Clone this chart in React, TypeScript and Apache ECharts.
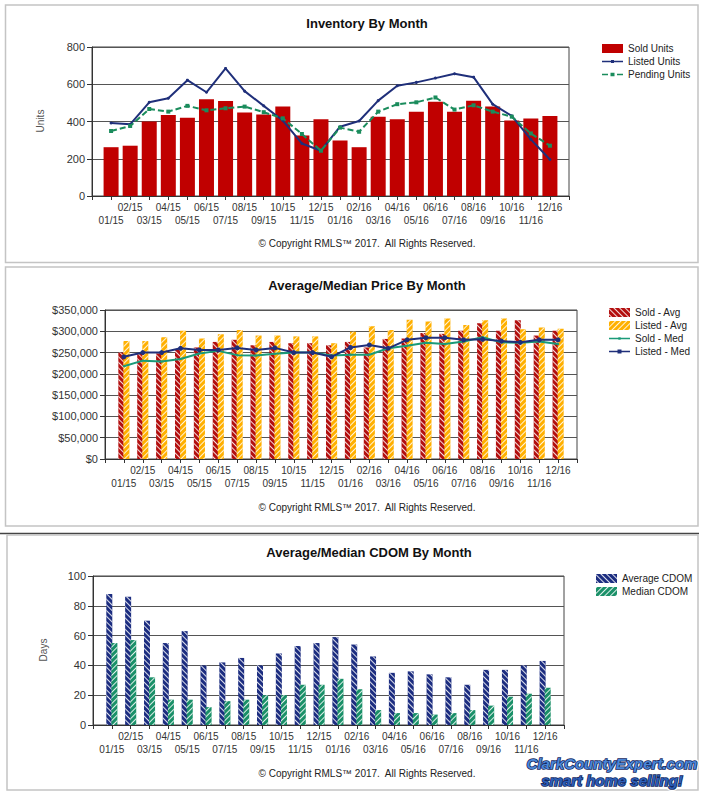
import React, { useEffect, useRef } from 'react';
import * as echarts from 'echarts';

const months = ['01/15','02/15','03/15','04/15','05/15','06/15','07/15','08/15','09/15','10/15','11/15','12/15',
  '01/16','02/16','03/16','04/16','05/16','06/16','07/16','08/16','09/16','10/16','11/16','12/16'];

const soldUnits = [262,270,400,435,420,520,510,448,438,480,325,412,298,262,425,412,452,506,452,512,480,405,416,430];
const listedUnits = [392,385,503,525,622,557,685,563,484,405,282,243,372,403,512,592,610,633,656,638,493,430,304,196];
const pendingUnits = [349,376,467,453,484,460,471,480,450,417,333,243,367,345,453,493,503,529,464,487,453,426,336,270];

const soldAvg = [250000,248000,248000,258000,262000,275000,280000,267000,275000,272000,272000,267000,275000,262000,282000,283000,296000,294000,301000,319000,301000,326000,290000,301000];
const listedAvg = [277000,277000,286000,301000,283000,293000,303000,290000,290000,288000,288000,272000,299000,312000,303000,327000,323000,330000,315000,326000,330000,305000,309000,306000];
const soldMed = [218000,231000,229000,235000,248000,254000,244000,243000,247000,250000,250000,243000,245000,245000,260000,266000,273000,270000,276000,286000,274000,273000,276000,270000];
const listedMed = [240000,250000,250000,260000,256000,256000,261000,256000,261000,250000,250000,240000,262000,268000,260000,280000,285000,285000,280000,281000,277000,274000,280000,280000];

const avgCdom = [88,86,70,55,63,40,42,45,40,48,53,55,59,54,46,35,36,34,32,27,37,37,40,43];
const medCdom = [55,57,32,17,17,12,16,17,20,20,27,27,31,24,10,8,8,7,8,10,13,19,21,25];

const titles = ['Inventory By Month', 'Average/Median Price By Month', 'Average/Median CDOM By Month'];
const axisNames = ['Units', 'Days'];
const copyright = '\u00A9 Copyright RMLS\u2122 2017.\u00A0 All Rights Reserved.';
const logoLines = ['ClarkCountyExpert.com', 'smart home selling!'];

const FONT = '"Liberation Sans", Arial, Helvetica, sans-serif';

const padded = ['', ...months, ''];
const pad = (a: number[]) => [null, ...a, null];

const ICON_LINE_DOT = 'path://M0,3.7h21v1.6h-21z M9,3h3v3h-3z';
const ICON_LINE_SMALL = 'path://M0,3.7h21v1.6h-21z M9.3,3.2h2.4v2.6h-2.4z';
const ICON_LINE_BIG = 'path://M0,3.7h21v1.6h-21z M8.5,2.5h4v4h-4z';
const ICON_DASH = 'path://M0,3.7h6v1.6h-6z M8.5,2.7h4v3.6h-4z M15,3.7h6v1.6h-6z';

function xAxis(gridIndex: number) {
  return {
    type: 'category', gridIndex, data: padded, boundaryGap: false,
    axisLine: { show: true, lineStyle: { color: '#333', width: 1 } },
    axisTick: { show: true, length: 4, interval: 0, lineStyle: { color: '#333' } },
    axisLabel: {
      interval: 0, fontSize: 10, color: '#333', fontFamily: FONT, lineHeight: 13, margin: 5,
      formatter: (v: string, i: number) => (v === '' ? '' : ((i - 1) % 2 === 0 ? '\n' + v : v)),
    },
    splitLine: { show: false },
  };
}

function yAxis(gridIndex: number, max: number, interval: number, fmt?: (v: number) => string) {
  return {
    type: 'value', gridIndex, min: 0, max, interval,
    axisLine: { show: true, lineStyle: { color: '#333' } },
    axisTick: { show: true, length: 5, lineStyle: { color: '#333' } },
    axisLabel: { fontSize: 11, color: '#333', fontFamily: FONT, margin: 7, formatter: fmt },
    splitLine: { show: true, lineStyle: { color: '#555', width: 1 } },
  };
}

const money = (v: number) => '$' + v.toLocaleString('en-US');

const stripe = (rot: number) => ({
  symbol: 'rect', symbolSize: 1, dashArrayX: [1, 0], dashArrayY: [1, 2.2], rotation: rot,
  color: 'rgba(255,255,255,0.85)',
});

export default function App() {
  const ref = useRef<HTMLDivElement>(null);
  useEffect(() => {
    document.body.style.margin = '0';
    const chart = echarts.init(ref.current!, undefined, { renderer: 'svg' });
    const legendBase = {
      orient: 'vertical', itemWidth: 21, itemHeight: 9, itemGap: 3, selectedMode: false, padding: 0,
      textStyle: { fontSize: 10, color: '#222', fontFamily: FONT, lineHeight: 10 },
    };
    const txt = (x: number, y: number, text: string, extra: any = {}) => ({
      type: 'text', x, y, silent: true,
      style: { text, fontFamily: FONT, fontSize: 10, fill: '#222', align: 'center', verticalAlign: 'middle',
        textAlign: 'center', textVerticalAlign: 'middle', ...extra },
    });
    const option: any = {
      animation: false,
      backgroundColor: '#fff',
      textStyle: { fontFamily: FONT },
      grid: [
        { left: 92, right: 134, top: 47, height: 149, show: true, borderColor: '#444', borderWidth: 1 },
        { left: 105, right: 126, top: 310, height: 149, show: true, borderColor: '#444', borderWidth: 1 },
        { left: 93, right: 139, top: 576, height: 149, show: true, borderColor: '#444', borderWidth: 1 },
      ],
      xAxis: [xAxis(0), xAxis(1), xAxis(2)],
      yAxis: [yAxis(0, 800, 200), yAxis(1, 350000, 50000, money), yAxis(2, 100, 20)],
      legend: [
        { ...legendBase, left: 602, top: 43.5, data: [
          { name: 'Sold Units', icon: 'rect' },
          { name: 'Listed Units', icon: ICON_LINE_DOT },
          { name: 'Pending Units', icon: ICON_DASH }] },
        { ...legendBase, left: 609, top: 307.5, data: [
          { name: 'Sold - Avg', icon: 'rect' },
          { name: 'Listed - Avg', icon: 'rect' },
          { name: 'Sold - Med', icon: ICON_LINE_SMALL },
          { name: 'Listed - Med', icon: ICON_LINE_BIG }] },
        { ...legendBase, left: 596, top: 573.5, data: [
          { name: 'Average CDOM', icon: 'rect' },
          { name: 'Median CDOM', icon: 'rect' }] },
      ],
      series: [
        { name: 'Sold Units', type: 'bar', xAxisIndex: 0, yAxisIndex: 0, barWidth: 15, data: pad(soldUnits),
          itemStyle: { color: '#c00000' } },
        { name: 'Listed Units', type: 'line', xAxisIndex: 0, yAxisIndex: 0, data: pad(listedUnits), z: 3,
          symbol: 'circle', symbolSize: 3, lineStyle: { color: '#1f2f7a', width: 2 }, itemStyle: { color: '#1f2f7a' } },
        { name: 'Pending Units', type: 'line', xAxisIndex: 0, yAxisIndex: 0, data: pad(pendingUnits), z: 3,
          symbol: 'rect', symbolSize: 4, lineStyle: { color: '#1a8c5c', width: 2, type: [6, 3] }, itemStyle: { color: '#1a8c5c' } },

        { name: 'Sold - Avg', type: 'bar', xAxisIndex: 1, yAxisIndex: 1, barWidth: 6, barGap: '-15%', data: pad(soldAvg),
          itemStyle: { color: '#b30f0f', decal: stripe(Math.PI / 4) } },
        { name: 'Listed - Avg', type: 'bar', xAxisIndex: 1, yAxisIndex: 1, barWidth: 6, barGap: '-15%', data: pad(listedAvg),
          itemStyle: { color: '#ffb000', decal: stripe(-Math.PI / 4) } },
        { name: 'Sold - Med', type: 'line', xAxisIndex: 1, yAxisIndex: 1, data: pad(soldMed), z: 3,
          symbol: 'circle', symbolSize: 2, lineStyle: { color: '#1a9a78', width: 2 }, itemStyle: { color: '#1a9a78' } },
        { name: 'Listed - Med', type: 'line', xAxisIndex: 1, yAxisIndex: 1, data: pad(listedMed), z: 4,
          symbol: 'circle', symbolSize: 5, lineStyle: { color: '#1f2f7a', width: 2 }, itemStyle: { color: '#1f2f7a' } },

        { name: 'Average CDOM', type: 'bar', xAxisIndex: 2, yAxisIndex: 2, barWidth: 6, barGap: '-15%', data: pad(avgCdom),
          itemStyle: { color: '#1c2d80', decal: stripe(Math.PI / 4) } },
        { name: 'Median CDOM', type: 'bar', xAxisIndex: 2, yAxisIndex: 2, barWidth: 6, barGap: '-15%', data: pad(medCdom),
          itemStyle: { color: '#1a9068', decal: stripe(-Math.PI / 4) } },
      ],
      graphic: [
        { type: 'rect', silent: true, shape: { x: 5.5, y: 5, width: 692.5, height: 257.5 }, style: { fill: 'none', stroke: '#c4c4c4', lineWidth: 1.5 } },
        { type: 'rect', silent: true, shape: { x: 5.5, y: 267, width: 692.5, height: 259 }, style: { fill: 'none', stroke: '#c4c4c4', lineWidth: 1.5 } },
        { type: 'line', silent: true, shape: { x1: 0, y1: 533.5, x2: 699, y2: 533.5 }, style: { stroke: '#444', lineWidth: 1.5 } },
        { type: 'rect', silent: true, shape: { x: 7, y: 535, width: 691, height: 255 }, style: { fill: 'none', stroke: '#c4c4c4', lineWidth: 1.5 } },
        txt(367, 23, titles[0], { fontSize: 13, fontWeight: 'bold', fill: '#111' }),
        txt(367, 285, titles[1], { fontSize: 13, fontWeight: 'bold', fill: '#111' }),
        txt(369, 552, titles[2], { fontSize: 13, fontWeight: 'bold', fill: '#111' }),
        { ...txt(40, 121, axisNames[0], { fill: '#555' }), rotation: Math.PI / 2 },
        { ...txt(43, 650, axisNames[1], { fill: '#555' }), rotation: Math.PI / 2 },
        txt(367, 243, copyright),
        txt(367, 507, copyright),
        txt(367, 773, copyright),
        txt(612, 763, logoLines[0], { fontSize: 15, fontWeight: 'bold', fontStyle: 'italic', fill: '#fff', stroke: '#fff', lineWidth: 4 }),
        txt(612, 763, logoLines[0], { fontSize: 15, fontWeight: 'bold', fontStyle: 'italic', fill: '#4a86d8', stroke: '#14275e', lineWidth: 1.6 }),
        txt(612, 780, logoLines[1], { fontSize: 15, fontWeight: 'bold', fontStyle: 'italic', fill: '#fff', stroke: '#fff', lineWidth: 4 }),
        txt(612, 780, logoLines[1], { fontSize: 15, fontWeight: 'bold', fontStyle: 'italic', fill: '#2c5fb8', stroke: '#14275e', lineWidth: 1.6 }),
      ],
    };
    chart.setOption(option);
    return () => chart.dispose();
  }, []);
  return <div ref={ref} style={{ position: 'fixed', left: 0, top: 0, width: 703, height: 796, background: '#fff' }} />;
}
